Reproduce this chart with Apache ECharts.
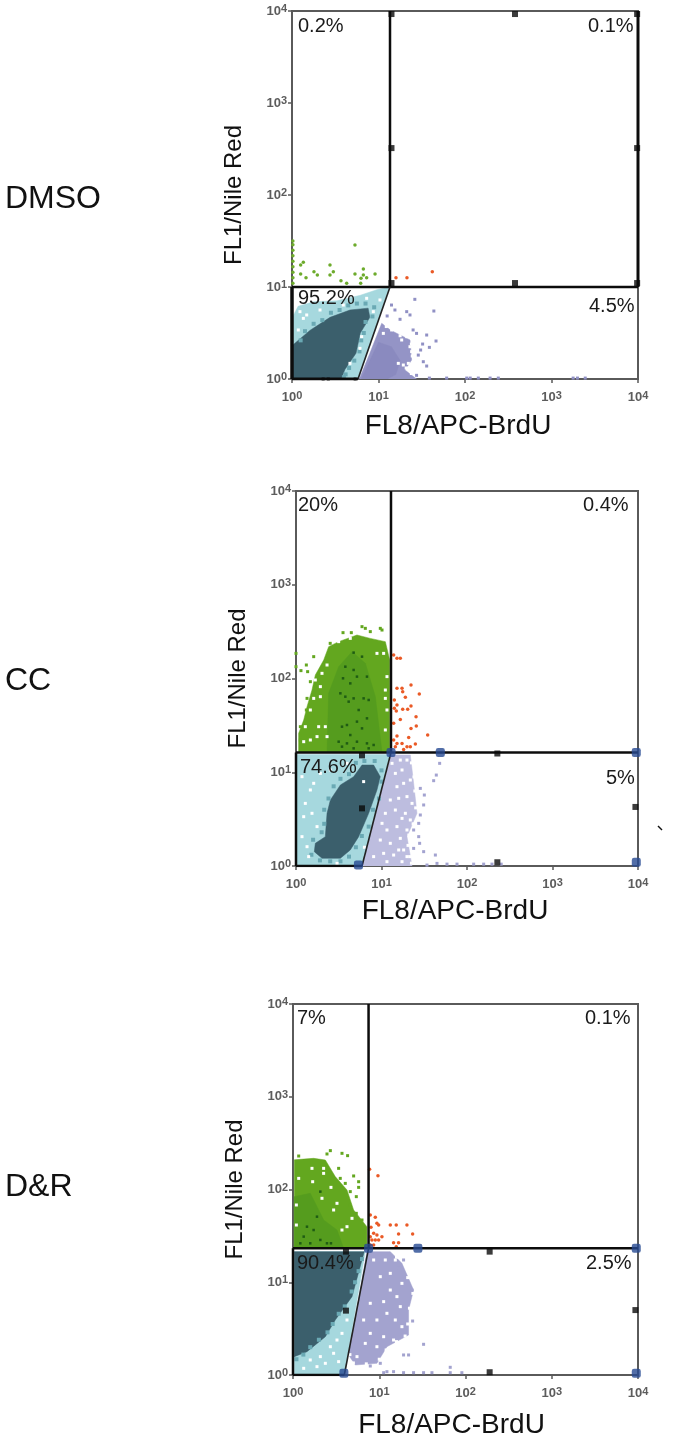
<!DOCTYPE html>
<html>
<head>
<meta charset="utf-8">
<style>html,body{margin:0;padding:0;background:#fff}#c{width:680px;height:1437px}</style>
<script src="https://cdn.jsdelivr.net/npm/echarts@6/dist/echarts.min.js"></script>
</head>
<body>
<div id="c"></div>
<script>
// All point lists are estimates, as [log10(FL8), log10(FL1)].
const panelNames = ['DMSO', 'CC', 'D&R'];
const xTitle = 'FL8/APC-BrdU';
const yTitle = 'FL1/Nile Red';
const tickExponents = ['0', '1', '2', '3', '4'];

const pctDMSO = ['0.2%', '0.1%', '95.2%', '4.5%'];
const pctCC = ['20%', '0.4%', '74.6%', '5%'];
const pctDR = ['7%', '0.1%', '90.4%', '2.5%'];

// gate vertices: horizontal level, vertical position, slanted-foot position
const gateDMSO = [1.0, 1.133, 0.763];
const gateCC = [1.21, 1.111, 0.772];
const gateDR = [1.366, 0.876, 0.595];

// ---- DMSO ----
const dmsoCyan = [[.01,0],[.01,.68],[.07,.79],[.25,.84],[.52,.85],[.79,.91],[.98,.97],[1.125,1],[.767,0]];
const dmsoDark = [[.01,0],[.01,.37],[.21,.53],[.44,.67],[.67,.75],[.88,.77],[.90,.67],[.79,.50],[.74,.28],[.61,.10],[.57,0]];
const dmsoTeal = [[.10,.42],[.15,.52],[.25,.60],[.35,.64],[.45,.72],[.55,.75],[.65,.8],[.75,.82],[.85,.82],[.95,.78],[.93,.68],[.85,.62],[.83,.5],[.8,.42],[.78,.3],[.72,.2],[.66,.12],[.62,.05],[.6,.02]];
const dmsoPurple = [[.778,0],[.90,.28],[1.037,.605],[1.14,.53],[1.364,.424],[1.383,.207],[1.306,.098],[1.44,0]];
const dmsoPurpleCore = [[.80,0],[1.0,.4],[1.15,.35],[1.25,.2],[1.2,.05],[1.1,0]];
const dmsoPurpleDots = [[1.42,.866],[1.64,.739],[1.19,.75],[1.15,.804],[1.326,.732],[1.364,.696],[1.249,.649],[1.10,.685],[1.40,.533],[1.44,.496],[1.557,.478],[1.665,.413],[1.588,.344],[1.51,.38],[1.487,.315],[1.46,.26],[1.518,.188],[1.557,.141],[1.44,.04],[1.588,.01],[1.788,.01],[2.02,.01],[2.06,.01],[2.154,.01],[2.29,.01],[2.385,.01],[3.25,.01],[3.3,.01],[3.39,.01]];
const dmsoGreenDots = [[.728,1.457],[.131,1.268],[.10,1.239],[.439,1.239],[.10,1.141],[.162,1.101],[.254,1.167],[.293,1.13],[.478,1.167],[.439,1.13],[.825,1.196],[.728,1.141],[.825,1.13],[.798,1.094],[.863,1.101],[.96,1.141],[.566,1.069],[.632,1.04],[.794,1.04],[.01,1.04],[.01,1.1],[.01,1.16],[.01,1.22],[.01,1.28],[.01,1.34],[.01,1.4],[.01,1.46],[.01,1.5]];
const dmsoRedDots = [[1.202,1.101],[1.329,1.101],[1.622,1.167]];
const dmsoWhite = [[.092,.732],[.131,.659],[.073,.533],[.863,.877],[1.017,.859],[.805,.46],[.786,.333],[.67,.17],[.94,.732],[.324,.75],[.593,.804],[.17,.696],[1.287,.152],[1.345,.17],[1.056,.496],[1.152,.533],[1.268,.424],[1.364,.351],[1.326,.46],[1.268,.569],[1.229,.17],[1.383,.297],[1.09,.57],[1.25,.47],[1.38,.38],[1.39,.25],[1.32,.12],[1.38,.06]];
const dmsoBlack = [[1.15,3.967],[2.578,3.967],[3.99,3.967],[1.15,2.51],[3.99,2.51],[1.15,1.043],[2.578,1.043],[3.99,1.043]];
const dmsoBlackSmall = [[.36,0],[.42,0],[.73,0]];

// ---- CC ----
const ccGreen = [[.031,1.213],[.031,1.415],[.09,1.557],[.129,1.70],[.187,1.877],[.226,2.037],[.324,2.197],[.382,2.34],[.499,2.393],[.713,2.464],[.869,2.428],[1.045,2.393],[1.096,2.197],[1.096,1.213]];
const ccGreenInner = [[.363,1.213],[.382,1.842],[.499,2.126],[.655,2.286],[.811,2.162],[.928,1.806],[1.006,1.213]];
const ccGreenDots = [[0,2.268],[0,2.126],[.058,2.084],[.121,2.144],[.207,2.233],[.136,2.073],[.168,1.966],[.129,1.788],[.121,1.664],[.051,1.486],[.051,1.344],[.772,2.553],[.869,2.50],[.986,2.535],[.55,2.489],[.647,2.489],[.40,2.375],[1.006,2.517],[.811,2.535]];
const ccGreenDark = [[.674,2.276],[.772,2.233],[.577,2.126],[.674,2.091],[.713,2.02],[.55,2.002],[.635,1.948],[.83,2.02],[.577,1.806],[.674,1.788],[.791,1.788],[.519,1.842],[.616,1.753],[.85,1.771],[.733,1.664],[.83,1.575],[.596,1.504],[.713,1.54],[.538,1.486],[.772,1.468],[.635,1.397],[.499,1.326],[.596,1.308],[.713,1.326],[.83,1.308],[.538,1.273],[.674,1.255],[.85,1.255],[.908,1.291]];
const ccRedDots = [[1.142,2.251],[1.181,2.215],[1.22,2.215],[1.181,1.895],[1.24,1.895],[1.248,1.86],[1.345,1.931],[1.442,1.835],[1.279,1.799],[1.15,1.771],[1.181,1.717],[1.15,1.682],[1.173,1.653],[1.248,1.671],[1.306,1.671],[1.345,1.707],[1.22,1.564],[1.404,1.593],[1.142,1.522],[1.407,1.493],[1.345,1.468],[1.54,1.397],[1.181,1.387],[1.142,1.344],[1.318,1.372],[1.181,1.308],[1.24,1.308],[1.298,1.273],[1.396,1.301],[1.337,1.273],[1.162,1.273],[1.259,1.244]];
const ccCyan = [[.012,0],[.012,1.19],[1.10,1.19],[.772,0]];
const ccDark = [[.226,.242],[.343,.313],[.363,.562],[.402,.704],[.519,.864],[.674,.953],[.772,1.077],[.908,1.077],[.986,.953],[.947,.811],[.85,.562],[.733,.313],[.635,.171],[.519,.082],[.304,.082],[.214,.153]];
const ccTeal = [[.2,.28],[.3,.36],[.33,.45],[.33,.6],[.38,.72],[.44,.85],[.52,.93],[.62,.98],[.7,1.1],[.8,1.12],[.92,1.12],[1.0,1.02],[1.0,.9],[.97,.72],[.9,.6],[.85,.42],[.77,.32],[.7,.2],[.62,.1],[.52,.05],[.4,.05],[.28,.06],[.18,.12]];
const ccPurple = [[.772,0],[1.111,1.184],[1.337,1.184],[1.376,.882],[1.415,.562],[1.298,.313],[1.357,0]];
const ccPurpleDots = [[1.454,.828],[1.501,.757],[1.493,.651],[1.454,.544],[1.435,.455],[1.376,.384],[1.435,.313],[1.446,.242],[1.493,.153],[1.63,.117],[1.376,.188],[1.532,.01],[1.649,.028],[1.766,.02],[1.883,.02],[2.078,.02],[2.195,.02],[2.292,.02],[2.4,.02],[1.68,1.095],[1.641,.97],[1.61,.91]];
const ccWhite = [[1.162,.988],[1.24,1.024],[1.181,.846],[1.259,.882],[1.337,.917],[1.103,.704],[1.201,.722],[1.298,.74],[1.357,.668],[1.045,.562],[1.162,.597],[1.279,.562],[1.337,.491],[1.064,.384],[1.181,.42],[1.298,.384],[.986,.277],[1.103,.242],[1.22,.295],[1.259,.171],[1.025,.135],[1.142,.117],[1.298,.10],[.908,.10],[1.064,.046],[1.24,.046],[1.201,.171],[1.006,.455],[1.24,.508],[1.123,1.095],[1.298,1.13],[1.22,1.13],[.07,.953],[.168,.811],[.109,.668],[.207,.882],[.285,.988],[.09,.526],[.187,.562],[.07,.313],[.129,.206],[.246,.42],[.148,.10],[.48,.028],[.791,.90],[.80,.2],[.596,1.095],[.402,1.024],[1.35,1.1],[1.38,.95],[1.39,.8],[1.4,.62],[1.37,.45],[1.32,.33],[1.31,.22],[1.33,.1],[1.35,.03],
  [.109,1.486],[.265,1.486],[.168,1.664],[.207,1.788],[.285,1.913],[.285,1.806],[.343,1.486],[.168,1.344],[.09,1.326],[.363,1.38],[.246,1.38],[.226,1.984],[.304,2.055],[.363,2.144],[1.045,1.877],[1.045,1.788],[1.064,1.664],[1.064,2.02],[.947,2.268],[1.025,2.268],[.499,2.393],[.635,2.428],[1.045,1.451]];
const ccBlue = [[1.111,1.21],[1.688,1.21],[3.98,1.21],[.73,.01],[3.98,.04]];
const ccBlack = [[.772,.615],[.772,1.18],[2.355,1.2],[2.355,.04],[3.97,.63]];

// ---- D&R ----
const drGreen = [[.015,1.366],[.015,2.32],[.239,2.336],[.375,2.318],[.49,2.139],[.626,1.995],[.703,1.779],[.857,1.599],[.857,1.366]];
const drGreenInner = [[.015,1.366],[.015,1.923],[.2,1.959],[.355,1.671],[.51,1.563],[.587,1.366]];
const drGreenDots = [[.433,2.419],[.394,2.383],[.568,2.39],[.633,2.365],[.066,2.361],[.529,2.228],[.703,2.146],[.761,2.084],[.761,2.023],[.664,1.977],[.734,1.923],[.657,1.833],[.734,1.743],[.80,1.671],[.548,2.12],[.606,2.066]];
const drGreenDark = [[.317,1.456],[.239,1.563],[.124,1.492],[.394,1.42],[.278,1.707],[.162,1.599],[.317,1.977],[.2,1.42],[.44,1.42],[.085,1.42]];
const drRedDots = [[.888,2.217],[.985,2.149],[.896,1.725],[.954,1.7],[.973,1.635],[.993,1.617],[.904,1.592],[.935,1.527],[.973,1.509],[1.031,1.491],[.915,1.456],[.954,1.456],[.993,1.456],[.896,1.402],[.935,1.402],[1.128,1.617],[1.197,1.617],[1.321,1.617],[1.224,1.52],[1.387,1.52],[1.166,1.427],[1.224,1.427],[1.197,1.384],[.896,1.491]];
const drCyan = [[.015,0],[.015,1.33],[.838,1.33],[.595,0]];
const drDark = [[.015,.198],[.015,1.33],[.826,1.33],[.684,.845],[.49,.593],[.375,.413],[.162,.252]];
const drTeal = [[.04,.17],[.12,.22],[.2,.3],[.3,.38],[.4,.46],[.46,.55],[.53,.66],[.6,.74],[.68,.9],[.72,1.0],[.76,1.12],[.8,1.25]];
const drPurple = [[.857,1.33],[1.128,1.33],[1.263,1.204],[1.398,.916],[1.34,.701],[1.34,.431],[1.089,.305],[.973,.126],[.722,.108],[.645,.216]];
const drPurpleDots = [[1.379,.916],[1.387,.582],[1.514,.331],[1.34,.216],[1.282,.216],[1.012,.126],[.896,.097],[1.051,.025],[1.282,.025],[1.398,.025],[1.514,.025],[1.611,.025],[1.823,.083],[1.823,.025],[1.958,.025],[1.282,1.24],[1.224,1.15],[1.089,.036],[1.166,.036]];
const drWhite = [[.066,2.12],[.228,2.084],[.355,2.174],[.44,2.023],[.336,1.905],[.51,1.851],[.626,1.599],[.568,1.563],[.039,1.833],[.039,1.617],[.22,2.228],[.355,2.228],[.471,1.779],[.684,1.689],[.124,.072],[.278,.09],[.375,.126],[.471,.234],[.529,.144],[.317,.198],[.433,.305],[.568,.449],[.2,.162],[.626,.593],[.51,.377],[.935,1.24],[1.07,1.24],[1.128,1.096],[1.186,1.24],[1.012,1.06],[1.128,.916],[1.051,.791],[1.205,.845],[1.263,.988],[.896,.773],[.973,.593],[1.089,.665],[1.186,.593],[1.263,.521],[.896,.449],[1.051,.413],[1.166,.377],[.838,.341],[.973,.305],[.742,.198],[1.244,.737],[.819,.593],[1.2,1.27],[1.33,1.05],[1.39,.88],[1.35,.72],[1.33,.55],[1.3,.42],[1.2,.36],[1.08,.27],[1.0,.17],[.85,.12],[.7,.13],[.66,.22]];
const drBlue = [[.876,1.366],[1.448,1.366],[3.98,1.366],[.59,.02],[3.98,.02]];
const drBlack = [[.614,.694],[.614,1.33],[2.28,1.33],[2.28,.03],[3.97,.70]];

const COL = {
  cyan: '#a6d8de', teal: '#6aa9b4', dark: '#3b5f6c',
  green: '#63a71f', greenIn: '#559c1e', greenDark: '#1f5c14', red: '#ea5a26', blue: '#274a92',
  axis: '#5a5a5a'
};

const panels = [
  { name: panelNames[0], pct: pctDMSO, gate: gateDMSO, box: [292, 11, 346, 368], thick: 1,
    nameY: 199, xNameGap: 33, yNameGap: 46, xShift: 7,
    pctPos: [[298, 26], [588, 26], [298, 298], [589, 306]],
    polys: [[dmsoCyan, COL.cyan], [dmsoDark, COL.dark], [dmsoPurple, '#9494c6'], [dmsoPurpleCore, '#8a8abf']],
    dots: [[dmsoTeal, COL.teal, 4, 'rect'], [dmsoWhite, '#fff', 3, 'rect'], [dmsoPurpleDots, '#9090c4', 3, 'rect'], [dmsoGreenDots, '#6dab2c', 3.5, 'circle'], [dmsoRedDots, COL.red, 3.5, 'circle']],
    black: dmsoBlack, small: dmsoBlackSmall, blue: [] },
  { name: panelNames[1], pct: pctCC, gate: gateCC, box: [296, 491, 342, 375], thick: 0,
    nameY: 681, xNameGap: 31, yNameGap: 46, xShift: 12,
    pctPos: [[298, 505], [583, 505], [300, 767], [606, 778]],
    polys: [[ccGreen, COL.green], [ccGreenInner, COL.greenIn], [ccCyan, COL.cyan], [ccDark, COL.dark], [ccPurple, '#bdbddf']],
    dots: [[ccTeal, COL.teal, 4, 'rect'], [ccGreenDots, COL.green, 3, 'rect'], [ccGreenDark, COL.greenDark, 2.5, 'rect'], [ccWhite, '#fff', 3, 'rect'], [ccPurpleDots, '#a3a3d0', 3, 'rect'], [ccRedDots, COL.red, 3.5, 'circle']],
    black: ccBlack, small: [], blue: ccBlue },
  { name: panelNames[2], pct: pctDR, gate: gateDR, box: [293, 1004, 345, 371], thick: 0,
    nameY: 1187, xNameGap: 36, yNameGap: 46, xShift: 14,
    pctPos: [[297, 1018], [585, 1018], [297, 1263], [586, 1263]],
    polys: [[drGreen, COL.green], [drGreenInner, COL.greenIn], [drCyan, COL.cyan], [drDark, COL.dark], [drPurple, '#a3a3cf']],
    dots: [[drTeal, COL.teal, 4, 'rect'], [drGreenDots, COL.green, 3, 'rect'], [drGreenDark, COL.greenDark, 2.5, 'rect'], [drWhite, '#fff', 3, 'rect'], [drPurpleDots, '#a3a3cf', 3, 'rect'], [drRedDots, COL.red, 3.5, 'circle']],
    black: drBlack, small: [], blue: drBlue }
];

const toVal = p => [Math.pow(10, p[0]), Math.pow(10, p[1])];
const expOf = v => tickExponents[Math.round(Math.log10(v))];

const grid = [], xAxis = [], yAxis = [], series = [], graphic = [];
const FONT = 'Liberation Sans, Arial, sans-serif';

function axisCommon(name, gap, fontSize, margin, padding) {
  return {
    type: 'log', logBase: 10, min: 1, max: 10000,
    name: name, nameLocation: 'middle', nameGap: gap,
    nameTextStyle: { fontFamily: FONT, fontSize: fontSize, color: '#111', padding: padding },
    axisLine: { show: true, onZero: false, lineStyle: { color: COL.axis, width: 2 } },
    axisTick: { show: true, length: 4, lineStyle: { color: COL.axis, width: 1.5 } },
    minorTick: { show: false }, splitLine: { show: false }, minorSplitLine: { show: false },
    axisLabel: {
      show: true, margin: margin, showMinLabel: true, showMaxLabel: true, hideOverlap: false,
      formatter: v => '{b|10}{s|' + expOf(v) + '}',
      rich: {
        b: { fontFamily: FONT, fontSize: 13, fontWeight: 'bold', color: '#5c5c5c' },
        s: { fontFamily: FONT, fontSize: 11, fontWeight: 'bold', color: '#5c5c5c', verticalAlign: 'top', padding: [0, 0, 4, 0] }
      }
    }
  };
}

panels.forEach((p, i) => {
  const [l, t, w, h] = p.box;
  grid.push({ left: l, top: t, width: w, height: h, show: true, borderColor: COL.axis, borderWidth: 2, backgroundColor: 'transparent', outerBoundsMode: 'none', containLabel: false });
  xAxis.push(Object.assign(axisCommon(xTitle, p.xNameGap, 28, 11, [0, p.xShift * 2, 0, 0]), { gridIndex: i }));
  yAxis.push(Object.assign(axisCommon(yTitle, p.yNameGap, 24, 5, 0), { gridIndex: i }));

  const on = { xAxisIndex: i, yAxisIndex: i, silent: true, animation: false };

  p.polys.forEach(([pts, fill], k) => {
    series.push(Object.assign({
      type: 'custom', z: 2 + k * 0.01, clip: true, data: pts.map(toVal),
      renderItem: (params, api) => {
        if (params.dataIndex !== 0) return null;
        return {
          type: 'polygon',
          shape: { points: pts.map(toVal).map(v => api.coord(v)) },
          style: { fill: fill, stroke: fill, lineWidth: 0.5 }
        };
      }
    }, on));
  });

  p.dots.forEach(([pts, color, size, sym]) => {
    series.push(Object.assign({
      type: 'scatter', z: 3, symbol: sym, symbolSize: size, data: pts.map(toVal),
      itemStyle: { color: color, opacity: 1 }
    }, on));
  });

  const [gy, gx, foot] = p.gate;
  const line = (pts, width, color) => series.push(Object.assign({
    type: 'line', z: 4, showSymbol: false, symbol: 'none', data: pts.map(toVal),
    lineStyle: { color: color || '#0c0c0c', width: width }
  }, on));
  line([[0, gy], [4, gy]], 2.5);
  line([[gx, gy], [gx, 4]], 2.5);
  line([[foot, 0], [gx, gy]], 1.6, '#222');
  line([[0, 0], [0, gy]], p.thick ? 3.5 : 2.5);
  line([[0, 0], [foot, 0]], p.thick ? 3 : 2.5);
  if (p.thick) line([[4, gy], [4, 4]], 3);

  series.push(Object.assign({ type: 'scatter', z: 5, symbol: 'rect', symbolSize: 6, data: p.black.map(toVal), itemStyle: { color: '#0a0a0a' } }, on));
  if (p.small.length) series.push(Object.assign({ type: 'scatter', z: 5, symbol: 'rect', symbolSize: 3, data: p.small.map(toVal), itemStyle: { color: '#0a0a0a' } }, on));
  if (p.blue.length) series.push(Object.assign({ type: 'scatter', z: 5, symbol: 'roundRect', symbolSize: 9, data: p.blue.map(toVal), itemStyle: { color: COL.blue } }, on));

  p.pct.forEach((s, k) => graphic.push({
    type: 'text', left: p.pctPos[k][0], top: p.pctPos[k][1] - 10, z: 20, silent: true,
    style: { text: s, font: '20px ' + FONT, fill: '#1a1a1a' }
  }));
  graphic.push({
    type: 'text', left: 5, top: p.nameY - 16, z: 20, silent: true,
    style: { text: p.name, font: '32px ' + FONT, fill: '#111' }
  });
});

graphic.push({ type: 'line', shape: { x1: 658, y1: 826, x2: 662, y2: 830 }, style: { stroke: '#111', lineWidth: 1.5 }, silent: true });

const chart = echarts.init(document.getElementById('c'), null, { renderer: 'canvas' });
chart.setOption({ animation: false, backgroundColor: '#fff', grid, xAxis, yAxis, series, graphic, tooltip: { show: false } });
</script>
</body>
</html>
